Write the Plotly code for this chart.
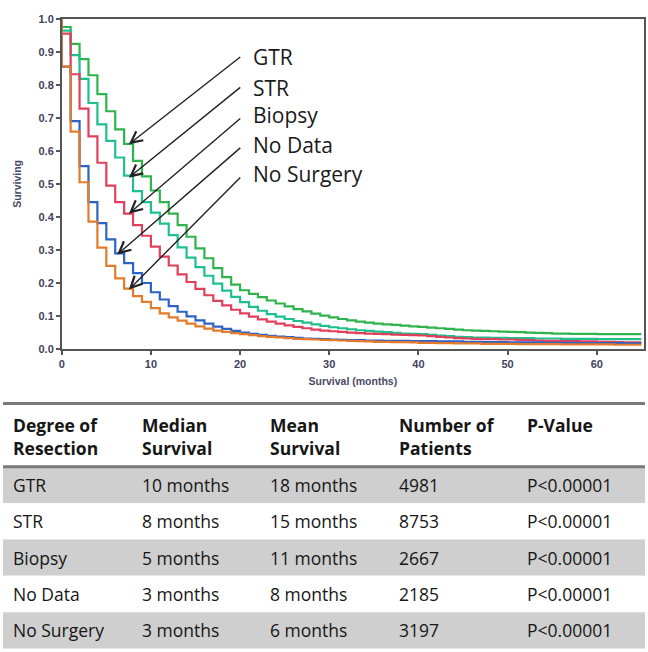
import plotly.graph_objects as go

# ---------------- data ----------------
months = list(range(66))

series_names = ["GTR", "STR", "Biopsy", "No Data", "No Surgery"]

gtr = [0.975, 0.924, 0.878, 0.829, 0.772, 0.720, 0.665, 0.621, 0.570, 0.523,
       0.480, 0.445, 0.410, 0.375, 0.340, 0.305, 0.275, 0.245, 0.218, 0.195,
       0.178, 0.167, 0.157, 0.147, 0.138, 0.129, 0.121, 0.114, 0.107, 0.101,
       0.096, 0.091, 0.087, 0.083, 0.080, 0.077, 0.075, 0.073, 0.071, 0.069,
       0.067, 0.065, 0.063, 0.061, 0.059, 0.057, 0.056, 0.055, 0.054, 0.053,
       0.052, 0.051, 0.050, 0.049, 0.048, 0.047, 0.047, 0.046, 0.046, 0.046,
       0.045, 0.045, 0.045, 0.045, 0.045, 0.045]

stR = [0.964, 0.890, 0.818, 0.745, 0.680, 0.630, 0.580, 0.525, 0.478, 0.445,
       0.413, 0.380, 0.345, 0.308, 0.277, 0.248, 0.222, 0.198, 0.177, 0.158,
       0.142, 0.128, 0.116, 0.106, 0.098, 0.091, 0.085, 0.080, 0.075, 0.070,
       0.066, 0.063, 0.060, 0.057, 0.055, 0.053, 0.051, 0.049, 0.047, 0.046,
       0.045, 0.043, 0.041, 0.039, 0.037, 0.036, 0.035, 0.035, 0.034, 0.034,
       0.033, 0.033, 0.033, 0.032, 0.032, 0.032, 0.031, 0.031, 0.031, 0.031,
       0.030, 0.030, 0.030, 0.030, 0.030, 0.030]

biopsy = [0.955, 0.832, 0.728, 0.644, 0.564, 0.495, 0.445, 0.410, 0.375, 0.343,
          0.310, 0.280, 0.253, 0.226, 0.203, 0.182, 0.163, 0.146, 0.132, 0.119,
          0.108, 0.098, 0.090, 0.083, 0.077, 0.072, 0.067, 0.063, 0.059, 0.056,
          0.054, 0.052, 0.050, 0.048, 0.047, 0.046, 0.045, 0.044, 0.043, 0.042,
          0.041, 0.039, 0.037, 0.035, 0.033, 0.032, 0.031, 0.030, 0.030, 0.029,
          0.029, 0.028, 0.027, 0.026, 0.025, 0.025, 0.024, 0.024, 0.023, 0.023,
          0.022, 0.022, 0.021, 0.020, 0.020, 0.020]

no_data = [0.855, 0.690, 0.554, 0.445, 0.381, 0.332, 0.290, 0.260, 0.230, 0.200,
           0.172, 0.150, 0.130, 0.113, 0.099, 0.087, 0.077, 0.068, 0.061, 0.055,
           0.050, 0.046, 0.043, 0.040, 0.038, 0.036, 0.034, 0.032, 0.031, 0.030,
           0.029, 0.028, 0.027, 0.027, 0.026, 0.026, 0.025, 0.025, 0.025, 0.024,
           0.024, 0.024, 0.023, 0.023, 0.023, 0.022, 0.022, 0.021, 0.021, 0.021,
           0.020, 0.020, 0.020, 0.020, 0.019, 0.019, 0.019, 0.019, 0.018, 0.018,
           0.018, 0.018, 0.018, 0.017, 0.017, 0.017]

no_surgery = [0.855, 0.658, 0.505, 0.386, 0.307, 0.252, 0.214, 0.183, 0.160, 0.143,
              0.124, 0.108, 0.096, 0.086, 0.077, 0.069, 0.062, 0.056, 0.052, 0.048,
              0.045, 0.042, 0.039, 0.037, 0.035, 0.033, 0.031, 0.030, 0.029, 0.028,
              0.027, 0.026, 0.025, 0.024, 0.023, 0.022, 0.022, 0.021, 0.021, 0.020,
              0.019, 0.019, 0.018, 0.018, 0.017, 0.017, 0.017, 0.016, 0.016, 0.016,
              0.016, 0.015, 0.015, 0.015, 0.015, 0.015, 0.014, 0.014, 0.014, 0.014,
              0.014, 0.014, 0.013, 0.013, 0.013, 0.013]

series_values = [gtr, stR, biopsy, no_data, no_surgery]

x_ticks = [0, 10, 20, 30, 40, 50, 60]
y_ticks = [0.0, 0.1, 0.2, 0.3, 0.4, 0.5, 0.6, 0.7, 0.8, 0.9, 1.0]

# table
table_header = ["Degree of<br>Resection", "Median<br>Survival", "Mean<br>Survival",
                "Number of<br>Patients", "P-Value"]
col_resection = ["GTR", "STR", "Biopsy", "No Data", "No Surgery"]
col_median = ["10 months", "8 months", "5 months", "3 months", "3 months"]
col_mean = ["18 months", "15 months", "11 months", "8 months", "6 months"]
col_patients = ["4981", "8753", "2667", "2185", "3197"]
col_pvalue = ["P&lt;0.00001", "P&lt;0.00001", "P&lt;0.00001", "P&lt;0.00001", "P&lt;0.00001"]
table_columns = [col_resection, col_median, col_mean, col_patients, col_pvalue]

# ---------------- styles / layout positions ----------------
colors = ["#2fb34c", "#1fbf8e", "#e0405c", "#2b63c6", "#e37b2a"]

arrow_tips_x = [7.53, 7.53, 7.53, 6.22, 7.53]
arrow_tips_y = [0.620, 0.519, 0.410, 0.286, 0.180]
arrow_tail_x = 20.19
arrow_tails_y = [0.888, 0.796, 0.702, 0.613, 0.524]
label_x = 21.2
label_y = [0.883, 0.791, 0.708, 0.617, 0.531]

W, H = 648, 652
plot_left, plot_right, plot_top, plot_bottom = 59, 644, 13, 349.5

# table geometry (pixels from top-left)
table_top = 405
header_bottom = 469.5
row_h = 37
header_line_y = [427, 450]
col_x = [8, 138, 266, 396, 524]
table_right = 645
row_fill = ["#cfcfcf", "white", "#cfcfcf", "white", "#cfcfcf"]

fig = go.Figure()

for name, vals, col in zip(series_names, series_values, colors):
    fig.add_trace(go.Scatter(
        x=[0] + months, y=[1.0] + vals,
        mode="lines", name=name, showlegend=False,
        line=dict(color=col, width=2.2, shape="hv"),
        hoverinfo="skip",
    ))

def py(p):
    """pixel-from-top -> paper y"""
    return (H - p) / H

annotations = []
for tx, ty, tly in zip(arrow_tips_x, arrow_tips_y, arrow_tails_y):
    annotations.append(dict(
        x=tx, y=ty, xref="x", yref="y",
        ax=arrow_tail_x, ay=tly, axref="x", ayref="y",
        text="", showarrow=True, arrowhead=5, arrowsize=1.6,
        arrowwidth=1.4, arrowcolor="#222222",
    ))
for name, ly in zip(series_names, label_y):
    annotations.append(dict(
        x=label_x, y=ly, xref="x", yref="y", text=name, showarrow=False,
        xanchor="left", yanchor="middle",
        font=dict(family="Open Sans", size=21, color="#1a1a1a"),
    ))

tfont = dict(family="Open Sans", size=17.5, color="#161616")
shapes = []

# row backgrounds
for i, fc in enumerate(row_fill):
    y0 = header_bottom + i * row_h
    shapes.append(dict(type="rect", xref="paper", yref="paper",
                       x0=0, x1=table_right / W, y0=py(y0 + row_h), y1=py(y0),
                       fillcolor=fc, line=dict(width=0), layer="below"))
# rules
for yy in [table_top, header_bottom]:
    shapes.append(dict(type="line", xref="paper", yref="paper",
                       x0=0, x1=table_right / W, y0=py(yy), y1=py(yy),
                       line=dict(color="#7a7a7a", width=3), layer="above"))

# header text
for cx, htxt in zip(col_x, table_header):
    for li, part in enumerate(htxt.split("<br>")):
        annotations.append(dict(
            x=cx / W, y=py(header_line_y[li]), xref="paper", yref="paper",
            text="<b>" + part + "</b>", showarrow=False,
            xanchor="left", yanchor="middle", font=tfont,
        ))
# cell text
for cx, column in zip(col_x, table_columns):
    for i, val in enumerate(column):
        annotations.append(dict(
            x=cx / W, y=py(header_bottom + (i + 0.5) * row_h),
            xref="paper", yref="paper", text=val, showarrow=False,
            xanchor="left", yanchor="middle", font=tfont,
        ))

axis_font = dict(family="Arial", size=11, color="#3f3f5c", weight="bold")
title_font = dict(family="Arial", size=10.5, color="#4a4a66", weight="bold")

fig.update_layout(
    width=W, height=H,
    margin=dict(l=0, r=0, t=0, b=0),
    paper_bgcolor="white", plot_bgcolor="rgba(0,0,0,0)",
    xaxis=dict(
        domain=[plot_left / W, plot_right / W],
        range=[0, 65.3], tickvals=x_ticks, ticks="outside", ticklen=4,
        tickwidth=1.5, tickcolor="#555", showgrid=False, zeroline=False,
        showline=True, linecolor="#555", linewidth=1.5, mirror=True,
        tickfont=axis_font,
        title=dict(text="Survival (months)", font=title_font, standoff=9),
    ),
    yaxis=dict(
        domain=[(H - plot_bottom) / H, (H - plot_top) / H],
        range=[0, 1.0], tickvals=y_ticks, tickformat=".1f", ticks="outside",
        ticklen=4, tickwidth=1.5, tickcolor="#555", showgrid=False,
        zeroline=False, showline=True, linecolor="#555", linewidth=1.5,
        mirror=True, tickfont=axis_font,
        title=dict(text="Surviving", font=title_font, standoff=15),
    ),
    annotations=annotations,
    shapes=shapes,
)

fig.write_html("out.html")
